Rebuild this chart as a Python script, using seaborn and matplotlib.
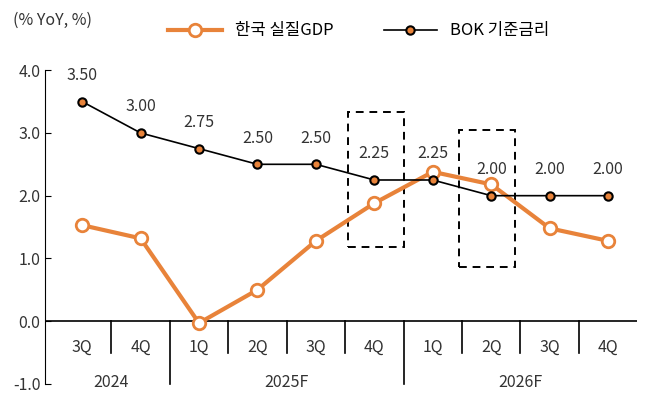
import matplotlib
matplotlib.use("Agg")
import matplotlib.pyplot as plt
import seaborn as sns
import pandas as pd
from matplotlib.patches import Rectangle

plt.rcParams["font.family"] = ["Noto Sans CJK KR", "Noto Sans CJK JP", "Noto Sans CJK SC", "DejaVu Sans"]
plt.rcParams["axes.unicode_minus"] = False

quarters = ["3Q", "4Q", "1Q", "2Q", "3Q", "4Q", "1Q", "2Q", "3Q", "4Q"]
years = ["2024", "2025F", "2026F"]
year_spans = [(0, 1), (2, 5), (6, 9)]
gdp = [1.53, 1.32, -0.03, 0.50, 1.28, 1.88, 2.38, 2.18, 1.48, 1.28]
bok = [3.50, 3.00, 2.75, 2.50, 2.50, 2.25, 2.25, 2.00, 2.00, 2.00]
bok_labels = ["3.50", "3.00", "2.75", "2.50", "2.50", "2.25", "2.25", "2.00", "2.00", "2.00"]

df = pd.DataFrame({"x": range(len(quarters)), "gdp": gdp, "bok": bok})
orange = "#E8833A"

fig = plt.figure(figsize=(6.47, 4.08), dpi=100)
ax = fig.add_axes([0.07, 0.059, 0.915, 0.769])

sns.lineplot(data=df, x="x", y="gdp", ax=ax, color=orange, lw=3, marker="o", ms=9,
             markerfacecolor="white", markeredgecolor=orange, markeredgewidth=2,
             label="한국 실질GDP", zorder=3)
sns.lineplot(data=df, x="x", y="bok", ax=ax, color="black", lw=1.2, marker="o", ms=6,
             markerfacecolor=orange, markeredgecolor="black", markeredgewidth=1.5,
             label="BOK 기준금리", zorder=4)

for i, (v, t) in enumerate(zip(bok, bok_labels)):
    ax.text(i, v + 0.28, t, ha="center", va="bottom", fontsize=11.5, color="#333333")

ax.add_patch(Rectangle((4.55, 1.19), 0.95, 2.15, fill=False, ls=(0, (4, 3)), lw=1.4, color="black"))
ax.add_patch(Rectangle((6.45, 0.86), 0.95, 2.19, fill=False, ls=(0, (4, 3)), lw=1.4, color="black"))

ax.axhline(0, color="black", lw=1.2)
for i, q in enumerate(quarters):
    ax.text(i, -0.42, q, ha="center", va="center", fontsize=11.5, color="#333333")
for k in range(len(quarters) - 1):
    x = k + 0.5
    bottom = -1.0 if k in (1, 5) else -0.5
    ax.plot([x, x], [0, bottom], color="black", lw=1.2, clip_on=False)
for y, (a, b) in zip(years, year_spans):
    ax.text((a + b) / 2, -0.97, y, ha="center", va="center", fontsize=11.5, color="#333333")

ax.set_xlim(-0.63, 9.5)
ax.set_ylim(-1.0, 4.0)
ax.set_yticks([-1, 0, 1, 2, 3, 4])
ax.set_yticklabels(["-1.0", "0.0", "1.0", "2.0", "3.0", "4.0"], fontsize=11.5, color="#333333")
ax.set_xticks([])
ax.set_xlabel("")
ax.set_ylabel("")
for s in ["top", "right", "bottom"]:
    ax.spines[s].set_visible(False)
ax.tick_params(axis="y", length=4, direction="in")

fig.text(0.02, 0.95, "(% YoY, %)", fontsize=11.5, color="#333333", va="center")
ax.legend(loc="upper center", bbox_to_anchor=(0.53, 1.2), ncol=2, frameon=False,
          fontsize=12, handlelength=3.2, columnspacing=3)

fig.savefig("out.png", dpi=100)
